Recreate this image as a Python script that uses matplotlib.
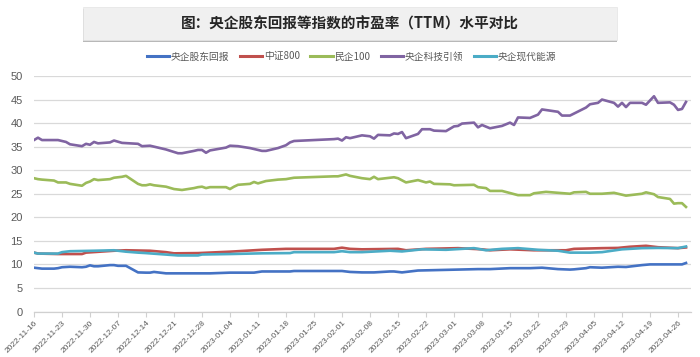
import matplotlib
matplotlib.use("Agg")
import matplotlib.pyplot as plt
import matplotlib.dates as mdates
from matplotlib.patches import Rectangle
import pandas as pd

plt.rcParams['font.family'] = ['Noto Sans CJK SC', 'DejaVu Sans']

title = "图：央企股东回报等指数的市盈率（TTM）水平对比"
series_names = ["央企股东回报", "中证800", "民企100", "央企科技引领", "央企现代能源"]
colors = ["#4472C4", "#C0504D", "#9BBB59", "#8064A2", "#4BACC6"]

soe_return_dates = ["2022-11-16", "2022-11-18", "2022-11-21", "2022-11-22", "2022-11-23", "2022-11-25",
                    "2022-11-28", "2022-11-29", "2022-11-30", "2022-12-01", "2022-12-02", "2022-12-05",
                    "2022-12-06", "2022-12-07", "2022-12-09", "2022-12-12", "2022-12-14", "2022-12-15",
                    "2022-12-16", "2022-12-19", "2022-12-30", "2023-01-04", "2023-01-10", "2023-01-12",
                    "2023-01-19", "2023-01-20", "2023-01-30", "2023-02-01", "2023-02-03", "2023-02-06",
                    "2023-02-09", "2023-02-13", "2023-02-14", "2023-02-16", "2023-02-20", "2023-03-02",
                    "2023-03-07", "2023-03-10", "2023-03-15", "2023-03-20", "2023-03-23", "2023-03-27",
                    "2023-03-30", "2023-03-31", "2023-04-03", "2023-04-04", "2023-04-07", "2023-04-11",
                    "2023-04-13", "2023-04-17", "2023-04-19", "2023-04-27", "2023-04-28"]
soe_return_vals = [9.3, 9.1, 9.1, 9.2, 9.4, 9.5,
                   9.4, 9.5, 9.8, 9.6, 9.6, 9.85,
                   9.85, 9.7, 9.7, 8.3, 8.25, 8.25,
                   8.4, 8.1, 8.1, 8.25, 8.25, 8.5,
                   8.5, 8.6, 8.6, 8.6, 8.4, 8.3,
                   8.3, 8.5, 8.5, 8.3, 8.7, 8.9,
                   9.0, 9.0, 9.2, 9.2, 9.3, 9.0,
                   8.9, 8.95, 9.2, 9.4, 9.3, 9.5,
                   9.45, 9.85, 10.0, 10.0, 10.3]

csi800_dates = ["2022-11-16", "2022-11-17", "2022-11-22", "2022-11-28", "2022-11-29", "2022-12-06",
                "2022-12-09", "2022-12-15", "2022-12-19", "2022-12-21", "2022-12-27", "2023-01-04",
                "2023-01-12", "2023-01-18", "2023-01-30", "2023-02-01", "2023-02-03", "2023-02-06",
                "2023-02-15", "2023-02-17", "2023-02-22", "2023-03-02", "2023-03-08", "2023-03-10",
                "2023-03-15", "2023-03-21", "2023-03-29", "2023-03-31", "2023-04-07", "2023-04-11",
                "2023-04-14", "2023-04-18", "2023-04-21", "2023-04-26", "2023-04-28"]
csi800_vals = [12.5, 12.3, 12.2, 12.2, 12.5, 12.9,
               13.0, 12.9, 12.6, 12.35, 12.4, 12.7,
               13.1, 13.3, 13.3, 13.55, 13.3, 13.2,
               13.3, 13.0, 13.3, 13.45, 13.2, 13.0,
               13.2, 13.0, 13.0, 13.3, 13.45, 13.5,
               13.75, 13.95, 13.65, 13.45, 13.6]

private100_dates = ["2022-11-16", "2022-11-17", "2022-11-18", "2022-11-21", "2022-11-22", "2022-11-24",
                    "2022-11-25", "2022-11-28", "2022-11-29", "2022-11-30", "2022-12-01", "2022-12-02",
                    "2022-12-05", "2022-12-06", "2022-12-08", "2022-12-09", "2022-12-12", "2022-12-13",
                    "2022-12-14", "2022-12-15", "2022-12-16", "2022-12-19", "2022-12-21", "2022-12-22",
                    "2022-12-23", "2022-12-26", "2022-12-27", "2022-12-28", "2022-12-29", "2022-12-30",
                    "2023-01-03", "2023-01-04", "2023-01-05", "2023-01-06", "2023-01-09", "2023-01-10",
                    "2023-01-11", "2023-01-13", "2023-01-16", "2023-01-18", "2023-01-20", "2023-01-30",
                    "2023-01-31", "2023-02-01", "2023-02-02", "2023-02-03", "2023-02-06", "2023-02-08",
                    "2023-02-09", "2023-02-10", "2023-02-13", "2023-02-14", "2023-02-15", "2023-02-17",
                    "2023-02-20", "2023-02-22", "2023-02-23", "2023-02-24", "2023-02-28", "2023-03-01",
                    "2023-03-06", "2023-03-07", "2023-03-09", "2023-03-10", "2023-03-13", "2023-03-17",
                    "2023-03-20", "2023-03-21", "2023-03-22", "2023-03-24", "2023-03-27", "2023-03-30",
                    "2023-03-31", "2023-04-03", "2023-04-04", "2023-04-07", "2023-04-10", "2023-04-13",
                    "2023-04-17", "2023-04-18", "2023-04-20", "2023-04-21", "2023-04-24", "2023-04-25",
                    "2023-04-26", "2023-04-27", "2023-04-28"]
private100_vals = [28.3, 28.1, 28.0, 27.8, 27.4, 27.4,
                   27.1, 26.7, 27.3, 27.6, 28.1, 27.9,
                   28.1, 28.4, 28.6, 28.8, 27.1, 26.8,
                   26.8, 27.0, 26.8, 26.5, 26.0, 25.9,
                   25.8, 26.2, 26.4, 26.5, 26.2, 26.4,
                   26.4, 26.0, 26.5, 26.9, 27.1, 27.5,
                   27.2, 27.7, 28.0, 28.1, 28.4, 28.7,
                   28.7, 28.9, 29.1, 28.8, 28.3, 28.1,
                   28.6, 28.1, 28.4, 28.5, 28.3, 27.4,
                   27.9, 27.4, 27.6, 27.1, 27.0, 26.8,
                   26.9, 26.4, 26.2, 25.6, 25.6, 24.7,
                   24.7, 25.1, 25.2, 25.4, 25.2, 25.0,
                   25.3, 25.4, 25.0, 25.0, 25.2, 24.6,
                   25.0, 25.3, 24.9, 24.3, 23.9, 22.9,
                   23.0, 23.0, 22.2]

tech_dates = ["2022-11-16", "2022-11-17", "2022-11-18", "2022-11-22", "2022-11-24", "2022-11-25",
              "2022-11-28", "2022-11-29", "2022-11-30", "2022-12-01", "2022-12-02", "2022-12-05",
              "2022-12-06", "2022-12-08", "2022-12-12", "2022-12-13", "2022-12-15", "2022-12-16",
              "2022-12-19", "2022-12-22", "2022-12-23", "2022-12-26", "2022-12-27", "2022-12-28",
              "2022-12-29", "2022-12-30", "2023-01-03", "2023-01-04", "2023-01-06", "2023-01-09",
              "2023-01-10", "2023-01-12", "2023-01-13", "2023-01-16", "2023-01-17", "2023-01-18",
              "2023-01-19", "2023-01-20", "2023-01-30", "2023-01-31", "2023-02-01", "2023-02-02",
              "2023-02-03", "2023-02-06", "2023-02-08", "2023-02-09", "2023-02-10", "2023-02-13",
              "2023-02-14", "2023-02-15", "2023-02-16", "2023-02-17", "2023-02-20", "2023-02-21",
              "2023-02-23", "2023-02-24", "2023-02-27", "2023-03-01", "2023-03-02", "2023-03-03",
              "2023-03-06", "2023-03-07", "2023-03-08", "2023-03-10", "2023-03-13", "2023-03-15",
              "2023-03-16", "2023-03-17", "2023-03-20", "2023-03-22", "2023-03-23", "2023-03-27",
              "2023-03-28", "2023-03-30", "2023-04-03", "2023-04-04", "2023-04-06", "2023-04-07",
              "2023-04-10", "2023-04-11", "2023-04-12", "2023-04-13", "2023-04-14", "2023-04-17",
              "2023-04-18", "2023-04-20", "2023-04-21", "2023-04-24", "2023-04-25", "2023-04-26",
              "2023-04-27", "2023-04-28"]
tech_vals = [36.4, 36.9, 36.4, 36.4, 36.0, 35.5,
             35.1, 35.6, 35.4, 36.0, 35.7, 35.9,
             36.3, 35.8, 35.6, 35.1, 35.2, 35.0,
             34.4, 33.6, 33.6, 34.1, 34.3, 34.3,
             33.7, 34.2, 34.8, 35.2, 35.1, 34.7,
             34.5, 34.1, 34.1, 34.7, 35.0, 35.3,
             35.9, 36.2, 36.6, 36.7, 36.3, 37.0,
             36.8, 37.4, 37.2, 36.7, 37.5, 37.4,
             37.8, 37.7, 38.1, 36.8, 37.7, 38.7,
             38.7, 38.4, 38.3, 39.3, 39.4, 39.9,
             40.1, 39.1, 39.6, 38.9, 39.4, 40.1,
             39.6, 41.2, 41.1, 41.8, 42.9, 42.4,
             41.6, 41.6, 43.3, 44.0, 44.3, 45.0,
             44.3, 43.5, 44.3, 43.4, 44.3, 44.3,
             43.9, 45.7, 44.3, 44.4, 43.9, 42.8,
             43.0, 44.5]

energy_dates = ["2022-11-16", "2022-11-17", "2022-11-22", "2022-11-23", "2022-11-25", "2022-12-01",
                "2022-12-06", "2022-12-07", "2022-12-09", "2022-12-12", "2022-12-14", "2022-12-22",
                "2022-12-27", "2022-12-28", "2023-01-04", "2023-01-12", "2023-01-19", "2023-01-20",
                "2023-01-30", "2023-02-01", "2023-02-03", "2023-02-06", "2023-02-13", "2023-02-16",
                "2023-02-21", "2023-02-27", "2023-03-06", "2023-03-09", "2023-03-13", "2023-03-17",
                "2023-03-22", "2023-03-27", "2023-03-30", "2023-04-04", "2023-04-07", "2023-04-12",
                "2023-04-17", "2023-04-21", "2023-04-26", "2023-04-28"]
energy_vals = [12.5, 12.3, 12.3, 12.6, 12.8, 12.9,
               13.0, 12.9, 12.7, 12.5, 12.4, 11.9,
               11.9, 12.1, 12.2, 12.35, 12.4, 12.6,
               12.6, 12.8, 12.6, 12.6, 12.9, 12.75,
               13.2, 13.1, 13.45, 13.0, 13.3, 13.45,
               13.1, 12.9, 12.5, 12.5, 12.6, 13.2,
               13.45, 13.5, 13.45, 13.8]

series_dates = [soe_return_dates, csi800_dates, private100_dates, tech_dates, energy_dates]
series_vals = [soe_return_vals, csi800_vals, private100_vals, tech_vals, energy_vals]

tick_dates = pd.date_range("2022-11-16", "2023-04-26", freq="7D")
y_ticks = list(range(0, 51, 5))

W, H = 700, 357
fig = plt.figure(figsize=(W / 100, H / 100), dpi=100)
fig.patch.set_facecolor("white")

ax = fig.add_axes([34 / W, 1 - 311.5 / H, (691 - 34) / W, (311.5 - 76) / H])

for name, c, d, v in zip(series_names, colors, series_dates, series_vals):
    ax.plot(pd.to_datetime(d), v, color=c, lw=1.9, label=name, solid_joinstyle="round")

ax.set_ylim(0, 50)
ax.set_yticks(y_ticks)
ax.set_xlim(pd.Timestamp("2022-11-16"), pd.Timestamp("2023-04-29 06:00"))
ax.set_xticks(tick_dates)
ax.xaxis.set_major_formatter(mdates.DateFormatter("%Y-%m-%d"))
ax.grid(axis="y", color="#d9d9d9", lw=0.9)
ax.set_axisbelow(True)
for s in ["top", "right", "left"]:
    ax.spines[s].set_visible(False)
ax.spines["bottom"].set_color("#d0d0d0")
ax.spines["bottom"].set_linewidth(0.9)
ax.tick_params(axis="y", length=0, pad=8, labelsize=8, labelcolor="#595959")
ax.tick_params(axis="x", length=3.5, color="#d0d0d0", pad=2, labelsize=6, labelcolor="#595959")
for lab in ax.get_yticklabels():
    lab.set_fontfamily(["Liberation Sans", "DejaVu Sans"])
for lab in ax.get_xticklabels():
    lab.set_fontfamily(["Liberation Sans", "DejaVu Sans"])
    lab.set_rotation(45)
    lab.set_ha("right")
    lab.set_va("top")
    lab.set_rotation_mode("anchor")

# title box with shadow
bx0, bx1, by0, by1 = 83, 617, 7, 40
fig.patches.append(Rectangle((bx0 / W, 1 - (by1 + 2) / H), (bx1 - bx0) / W, (by1 - by0) / H,
                             transform=fig.transFigure, facecolor="#8a8a8a", edgecolor="none",
                             alpha=0.6, zorder=0))
fig.patches.append(Rectangle((bx0 / W, 1 - by1 / H), (bx1 - bx0) / W, (by1 - by0) / H,
                             transform=fig.transFigure, facecolor="#f0f0f0", edgecolor="#e4e4e4",
                             lw=0.5, zorder=1))
fig.text(0.5, 1 - 24 / H, title, ha="center", va="center", fontsize=10.5,
         fontweight="bold", color="#262626", zorder=3)

leg = fig.legend(loc="center", bbox_to_anchor=(351.5 / W, 1 - 56.5 / H), ncol=5, frameon=False,
                 fontsize=7, handlelength=2.3, handletextpad=0.15, columnspacing=1.1,
                 labelcolor="#595959")
for h in leg.get_lines():
    h.set_linewidth(2.2)

fig.savefig("out.png", dpi=100)
